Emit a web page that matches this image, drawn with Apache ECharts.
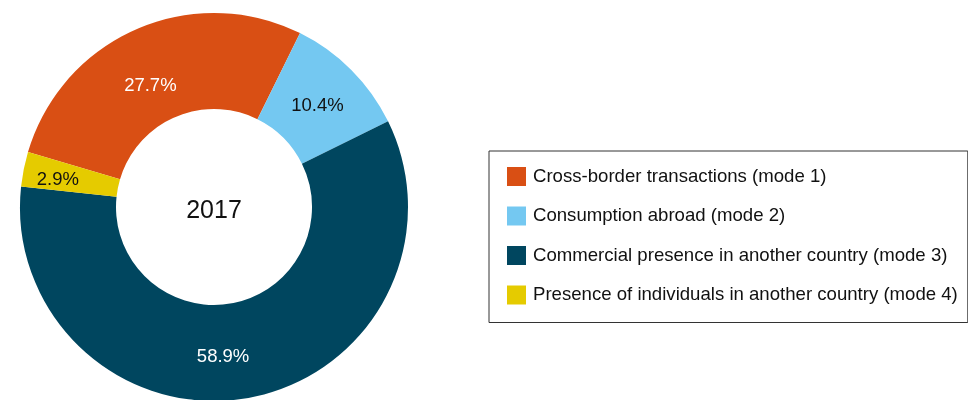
<!DOCTYPE html>
<html>
<head>
<meta charset="utf-8">
<script src="https://cdn.jsdelivr.net/npm/echarts@6/dist/echarts.min.js"></script>
<style>html,body{margin:0;padding:0;background:#fff;}#c{width:968px;height:400px;}</style>
</head>
<body>
<div id="c"></div>
<script>
var categories = [
  'Cross-border transactions (mode 1)',
  'Consumption abroad (mode 2)',
  'Commercial presence in another country (mode 3)',
  'Presence of individuals in another country (mode 4)'
];
var values = [27.7, 10.4, 58.9, 2.9];
var colors = ['#d94f14', '#74c8f1', '#00465f', '#e5cb00'];
var labelColors = ['#ffffff', '#111111', '#ffffff', '#111111'];
var labelOffsets = [[-4, 15], [-2, 4], [-17, 3], [-10, 2]];
var centerText = '2017';

var chart = echarts.init(document.getElementById('c'));
chart.setOption({
  animation: false,
  legend: {
    orient: 'vertical',
    left: 489,
    top: 151,
    borderColor: '#333',
    borderWidth: 1,
    borderRadius: 0,
    padding: [16, 10, 18, 18],
    itemWidth: 19,
    itemHeight: 19,
    itemGap: 20.5,
    icon: 'rect',
    selectedMode: false,
    textStyle: { fontFamily: 'Liberation Sans, Arial, sans-serif', fontSize: 18.6, lineHeight: 19, color: '#111', padding: [0, 0, 0, 2] },
    data: categories
  },
  title: {
    text: centerText,
    left: 214,
    top: 211,
    textAlign: 'center',
    textVerticalAlign: 'middle',
    padding: 0,
    textStyle: { fontFamily: 'Liberation Sans, Arial, sans-serif', fontSize: 25, fontWeight: 'normal', color: '#111' }
  },
  series: [{
    type: 'pie',
    center: [214, 207],
    radius: [98, 194],
    startAngle: 163.5,
    clockwise: true,
    silent: true,
    itemStyle: { borderWidth: 0 },
    label: {
      show: true,
      position: 'inside',
      fontFamily: 'Liberation Sans, Arial, sans-serif',
      fontSize: 18.5,
      formatter: function (p) { return p.value.toFixed(1) + '%'; }
    },
    labelLine: { show: false },
    data: categories.map(function (n, i) {
      return {
        name: n,
        value: values[i],
        itemStyle: { color: colors[i] },
        label: { color: labelColors[i], offset: labelOffsets[i] }
      };
    })
  }]
});
</script>
</body>
</html>
